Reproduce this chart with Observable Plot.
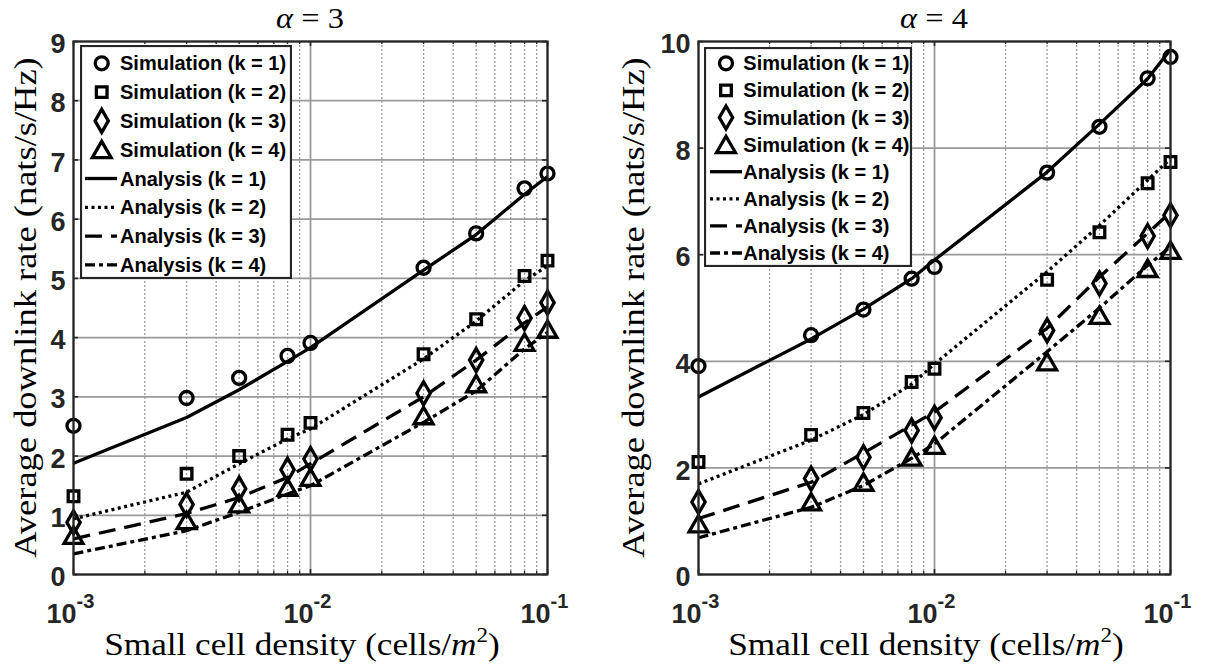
<!DOCTYPE html>
<html><head><meta charset="utf-8">
<script src="https://cdn.jsdelivr.net/npm/d3@7"></script>
<script src="https://cdn.jsdelivr.net/npm/@observablehq/plot@0.6"></script>
<style>
body{margin:0;background:#fff;}
#wrap{position:relative;width:1209px;height:668px;overflow:hidden;background:#fff;}
#wrap svg{position:absolute;top:0;}
</style></head><body><div id="wrap"></div>
<script>
// ---- data ----
const density = [0.001, 0.003, 0.005, 0.008, 0.01, 0.03, 0.05, 0.08, 0.1];
const xMajorTicks = [0.001, 0.01, 0.1];
const xMinorTicks = [0.002,0.003,0.004,0.005,0.006,0.007,0.008,0.009,0.02,0.03,0.04,0.05,0.06,0.07,0.08,0.09];
const yTicksA3 = [0,1,2,3,4,5,6,7,8,9];
const yTicksA4 = [0,2,4,6,8,10];
const alphaValues = [3, 4];
const legendLabels = ["Simulation (k = 1)","Simulation (k = 2)","Simulation (k = 3)","Simulation (k = 4)",
  "Analysis (k = 1)","Analysis (k = 2)","Analysis (k = 3)","Analysis (k = 4)"];
const yLabel = "Average downlink rate (nats/s/Hz)";

// alpha = 3
const a3Sim1 = [2.51, 2.98, 3.32, 3.69, 3.91, 5.18, 5.76, 6.52, 6.77];
const a3Sim2 = [1.32, 1.70, 2.00, 2.36, 2.56, 3.72, 4.31, 5.04, 5.30];
const a3Sim3 = [0.88, 1.18, 1.45, 1.77, 1.95, 3.06, 3.62, 4.33, 4.59];
const a3Sim4 = [0.66, 0.91, 1.19, 1.47, 1.64, 2.68, 3.22, 3.92, 4.14];
const a3Ana1 = [1.88, 2.65, 3.12, 3.60, 3.83, 5.14, 5.74, 6.42, 6.72];
const a3Ana2 = [0.94, 1.39, 1.87, 2.29, 2.46, 3.64, 4.28, 4.96, 5.21];
const a3Ana3 = [0.60, 1.03, 1.30, 1.64, 1.87, 3.00, 3.62, 4.25, 4.52];
const a3Ana4 = [0.35, 0.74, 1.05, 1.36, 1.50, 2.57, 3.10, 3.81, 4.09];
// alpha = 4
const a4Sim1 = [3.91, 4.49, 4.97, 5.55, 5.77, 7.54, 8.40, 9.31, 9.71];
const a4Sim2 = [2.11, 2.62, 3.03, 3.61, 3.86, 5.53, 6.42, 7.34, 7.74];
const a4Sim3 = [1.36, 1.80, 2.20, 2.70, 2.94, 4.58, 5.46, 6.35, 6.74];
const a4Sim4 = [0.95, 1.36, 1.73, 2.20, 2.42, 3.99, 4.86, 5.74, 6.08];
const a4Ana1 = [3.33, 4.42, 4.98, 5.55, 5.90, 7.55, 8.45, 9.30, 9.85];
const a4Ana2 = [1.70, 2.52, 3.00, 3.57, 3.95, 5.68, 6.55, 7.40, 7.80];
const a4Ana3 = [1.05, 1.73, 2.28, 2.80, 3.05, 4.62, 5.58, 6.40, 6.80];
const a4Ana4 = [0.69, 1.26, 1.67, 2.18, 2.45, 4.18, 5.00, 5.80, 6.15];

// ---- styles ----
const symbols = ["circle","square","diamond","triangle"];
const symbolR = [6.5, 6, 7, 7];
const symbolDy = [0, 0, 0, 2.5];
const dashes = [null, "3,3.5", "17,9", "10,4,4,4"];
const LINE_W = 3.3, MARK_W = 3.3;
const INK = "#262626", GRID = "#9a9a9a";
const SANS = "Liberation Sans, Arial, Helvetica, sans-serif";
const SERIF = "Liberation Serif, Times New Roman, serif";

const wrap = document.getElementById("wrap");

function panel(cfg) {
  const H = 668, fw = cfg.width - cfg.ml - cfg.mr, fh = H - cfg.mt - cfg.mb;
  const marks = [
    Plot.ruleX(xMinorTicks, {stroke: GRID, strokeWidth: 1.3, strokeDasharray: "2,2"}),
    Plot.ruleX(xMajorTicks, {stroke: GRID, strokeWidth: 1.8}),
    Plot.ruleY(cfg.yTicks, {stroke: GRID, strokeWidth: 1.8}),
    // inward tick marks
    Plot.tickX(xMajorTicks, {x: d => d, stroke: INK, strokeWidth: 1.6, insetTop: fh - 5}),
    Plot.tickX(xMajorTicks, {x: d => d, stroke: INK, strokeWidth: 1.6, insetBottom: fh - 5}),
    Plot.tickX(xMinorTicks, {x: d => d, stroke: INK, strokeWidth: 1.3, insetTop: fh - 3}),
    Plot.tickX(xMinorTicks, {x: d => d, stroke: INK, strokeWidth: 1.3, insetBottom: fh - 3}),
    Plot.tickY(cfg.yTicks, {y: d => d, stroke: INK, strokeWidth: 1.6, insetRight: fw - 5}),
    Plot.tickY(cfg.yTicks, {y: d => d, stroke: INK, strokeWidth: 1.6, insetLeft: fw - 5}),
  ];
  cfg.ana.forEach((series, k) => {
    const data = density.map((d, j) => ({x: d, y: series[j]}));
    const o = {x: "x", y: "y", stroke: "black", strokeWidth: LINE_W, strokeLinecap: "butt", strokeLinejoin: "round"};
    if (dashes[k]) o.strokeDasharray = dashes[k];
    marks.push(Plot.line(data, o));
  });
  cfg.sim.forEach((series, k) => {
    const data = density.map((d, j) => ({x: d, y: series[j]}));
    marks.push(Plot.dot(data, {x: "x", y: "y", symbol: symbols[k], r: symbolR[k], dy: symbolDy[k],
      stroke: "black", strokeWidth: MARK_W, fill: "none"}));
  });
  marks.push(Plot.frame({stroke: INK, strokeWidth: 2.2}));
  marks.push(Plot.text(cfg.yTicks, {y: d => d, frameAnchor: "left", textAnchor: "end", dx: -8, dy: 3,
    text: d => String(d), fontSize: 27, fontWeight: "bold", fill: INK, fontFamily: SANS}));
  marks.push(Plot.text(xMajorTicks, {x: d => d, frameAnchor: "bottom", textAnchor: "end", lineAnchor: "bottom",
    dx: 3, dy: 48, text: () => "10", fontSize: 27, fontWeight: "bold", fill: INK, fontFamily: SANS}));
  marks.push(Plot.text(xMajorTicks, {x: d => d, frameAnchor: "bottom", textAnchor: "start", lineAnchor: "bottom",
    dx: 3, dy: 33, text: d => String(Math.round(Math.log10(d))), fontSize: 20, fontWeight: "bold", fill: INK, fontFamily: SANS}));

  const chart = Plot.plot({
    width: cfg.width, height: H,
    marginLeft: cfg.ml, marginRight: cfg.mr, marginTop: cfg.mt, marginBottom: cfg.mb,
    x: {type: "log", domain: [0.001, 0.1], axis: null},
    y: {domain: [0, cfg.yMax], axis: null},
    style: {background: "transparent", overflow: "visible"},
    marks
  });
  chart.style.left = cfg.left + "px";
  wrap.appendChild(chart);

  const svg = d3.select(chart.tagName.toLowerCase() === "svg" ? chart : chart.querySelector("svg"));
  const cx = cfg.ml + fw / 2, cy = cfg.mt + fh / 2;
  // title
  const t = svg.append("text").attr("text-anchor", "middle")
    .attr("transform", `translate(${cx},28) scale(1.12,1)`)
    .attr("font-family", SERIF).attr("font-size", 29).attr("fill", "black");
  t.append("tspan").attr("font-style", "italic").text("α");
  t.append("tspan").text(" = " + cfg.alpha);
  // x label
  const xl = svg.append("text").attr("text-anchor", "middle")
    .attr("transform", `translate(${cx - 8},655) scale(1.1,1)`)
    .attr("font-family", SERIF).attr("font-size", 32).attr("fill", "black");
  xl.append("tspan").text("Small cell density (cells/");
  xl.append("tspan").attr("font-style", "italic").text("m");
  xl.append("tspan").attr("font-size", 21).attr("dy", -13).text("2");
  xl.append("tspan").attr("dy", 13).text(")");
  // y label
  svg.append("text").attr("text-anchor", "middle")
    .attr("transform", `translate(${cfg.ylabelX},${cy}) rotate(-90) scale(1.14,1)`)
    .attr("font-family", SERIF).attr("font-size", 32).attr("fill", "black")
    .text(yLabel);

  // legend
  const L = cfg.legend;
  const lg = d3.select(wrap).append("svg")
    .attr("width", L.w).attr("height", L.h)
    .style("left", L.x + "px").style("top", L.y + "px");
  lg.append("rect").attr("x", 1).attr("y", 1).attr("width", L.w - 2).attr("height", L.h - 2)
    .attr("fill", "white").attr("stroke", INK).attr("stroke-width", 2.2);
  const d3sym = {circle: d3.symbolCircle, square: d3.symbolSquare, diamond: d3.symbolDiamond, triangle: d3.symbolTriangle};
  legendLabels.forEach((lab, i) => {
    const yc = L.row0 + i * L.step;
    if (i < 4) {
      const s = symbols[i];
      lg.append("path").attr("d", d3.symbol(d3sym[s], Math.PI * symbolR[i] * symbolR[i])())
        .attr("transform", `translate(${L.mx},${yc + symbolDy[i]})`)
        .attr("fill", "none").attr("stroke", "black").attr("stroke-width", MARK_W);
    } else {
      const k = i - 4;
      const ln = lg.append("line").attr("x1", L.lx1).attr("x2", L.lx2).attr("y1", yc).attr("y2", yc)
        .attr("stroke", "black").attr("stroke-width", LINE_W);
      if (dashes[k]) ln.attr("stroke-dasharray", dashes[k]);
    }
    lg.append("text").attr("x", L.tx).attr("y", yc + 7).attr("font-family", SANS)
      .attr("font-weight", "bold").attr("font-size", 20).attr("fill", "black").text(lab);
  });
}

panel({left: 0, width: 604, ml: 73, mr: 57, mt: 41, mb: 94, yMax: 9, yTicks: yTicksA3, alpha: alphaValues[0],
  sim: [a3Sim1, a3Sim2, a3Sim3, a3Sim4], ana: [a3Ana1, a3Ana2, a3Ana3, a3Ana4], ylabelX: 36,
  legend: {x: 80, y: 45, w: 212, h: 234, row0: 18.3, step: 28.8, mx: 21.7, lx1: 5, lx2: 37, tx: 40}});
panel({left: 604, width: 605, ml: 94, mr: 39, mt: 41, mb: 94, yMax: 10, yTicks: yTicksA4, alpha: alphaValues[1],
  sim: [a4Sim1, a4Sim2, a4Sim3, a4Sim4], ana: [a4Ana1, a4Ana2, a4Ana3, a4Ana4], ylabelX: 40,
  legend: {x: 704, y: 47, w: 208, h: 220, row0: 16.3, step: 27.1, mx: 22, lx1: 6, lx2: 38, tx: 39.3}});
</script></body></html>
